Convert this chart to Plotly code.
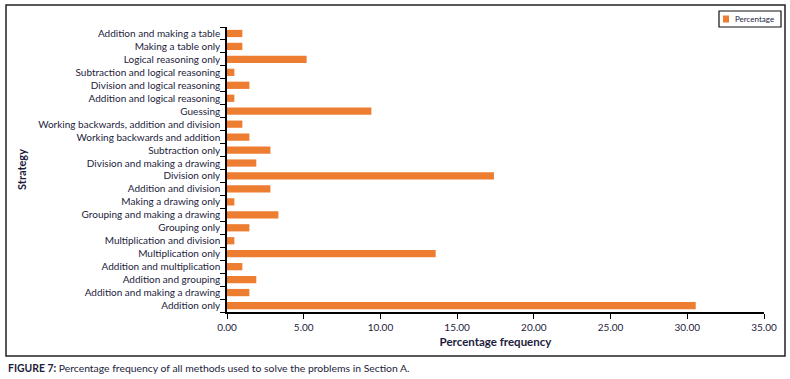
import plotly.graph_objects as go

categories = [
    "Addition only",
    "Addition and making a drawing",
    "Addition and grouping",
    "Addition and multiplication",
    "Multiplication only",
    "Multiplication and division",
    "Grouping only",
    "Grouping and making a drawing",
    "Making a drawing only",
    "Addition and division",
    "Division only",
    "Division and making a drawing",
    "Subtraction only",
    "Working backwards and addition",
    "Working backwards, addition and division",
    "Guessing",
    "Addition and logical reasoning",
    "Division and logical reasoning",
    "Subtraction and logical reasoning",
    "Logical reasoning only",
    "Making a table only",
    "Addition and making a table",
]
percentage = [30.55, 1.46, 1.91, 1.0, 13.6, 0.48, 1.46, 3.35, 0.48, 2.83, 17.4,
              1.91, 2.83, 1.46, 1.0, 9.41, 0.48, 1.46, 0.48, 5.19, 1.0, 1.0]
x_ticks = [0, 5, 10, 15, 20, 25, 30, 35]
series_name = "Percentage"

W, H = 790, 379
ML, MR, MT, MB = 227, 26, 27, 67
PW, PH = W - ML - MR, H - MT - MB

def px(x):
    return (x - ML) / PW

def py(y):
    return 1 - (y - MT) / PH

FONT = "Lato, 'Open Sans', sans-serif"
TXT = "#1c1c3c"
ORANGE = "#ED7D31"

fig = go.Figure()
fig.add_trace(go.Bar(
    y=categories, x=percentage, orientation="h", name=series_name,
    marker=dict(color=ORANGE, line=dict(width=0)),
    showlegend=False,
))

fig.update_layout(
    width=W, height=H,
    margin=dict(l=ML, r=MR, t=MT, b=MB, pad=0, autoexpand=False),
    paper_bgcolor="white", plot_bgcolor="white",
    bargap=0.44,
    showlegend=False,
    font=dict(family=FONT, size=10, color=TXT),
    xaxis=dict(
        range=[0, 35], tickvals=x_ticks, tickformat=".2f",
        showgrid=False, zeroline=False,
        showline=True, linecolor="black", linewidth=1.5,
        ticks="outside", ticklen=5, tickcolor="black", tickwidth=1.2,
        tickfont=dict(size=10, color=TXT),
        title=dict(text="<b>Percentage frequency</b>", font=dict(size=11.5, color=TXT), standoff=6),
        automargin=False,
    ),
    yaxis=dict(
        type="category", categoryorder="array", categoryarray=categories,
        showgrid=False, zeroline=False,
        showline=True, linecolor="black", linewidth=1.5,
        ticks="outside", ticklen=5, tickcolor="black", tickwidth=1.2,
        tickson="boundaries",
        tickfont=dict(size=10, color=TXT),
        ticklabelstandoff=3,
        automargin=False,
    ),
    shapes=[
        dict(type="rect", xref="paper", yref="paper",
             x0=px(6), x1=px(785), y0=py(356), y1=py(5),
             line=dict(color="#222222", width=1.5), fillcolor="rgba(0,0,0,0)",
             layer="below"),
        dict(type="rect", xref="paper", yref="paper",
             x0=px(719), x1=px(781), y0=py(27), y1=py(11),
             line=dict(color="#111111", width=1.2), fillcolor="white"),
        dict(type="rect", xref="paper", yref="paper",
             x0=px(723), x1=px(729), y0=py(22.5), y1=py(15.5),
             line=dict(width=0), fillcolor=ORANGE),
    ],
    annotations=[
        dict(text=series_name, xref="paper", yref="paper",
             x=px(733), y=py(19), showarrow=False, xanchor="left", yanchor="middle",
             font=dict(size=8, color=TXT)),
        dict(text="<b>Strategy</b>", textangle=-90, xref="paper", yref="paper",
             x=px(21), y=py(170), showarrow=False, font=dict(size=11, color=TXT),
             xanchor="center", yanchor="middle"),
        dict(text="<b>FIGURE 7:</b> Percentage frequency of all methods used to solve the problems in Section A.",
             xref="paper", yref="paper", x=px(6), y=py(368), showarrow=False,
             xanchor="left", yanchor="middle", font=dict(size=10.4, color=TXT)),
    ],
)

fig.write_html("out.html", config={"displayModeBar": False},
               post_script="document.body.style.margin='0';document.body.style.overflow='hidden';")
